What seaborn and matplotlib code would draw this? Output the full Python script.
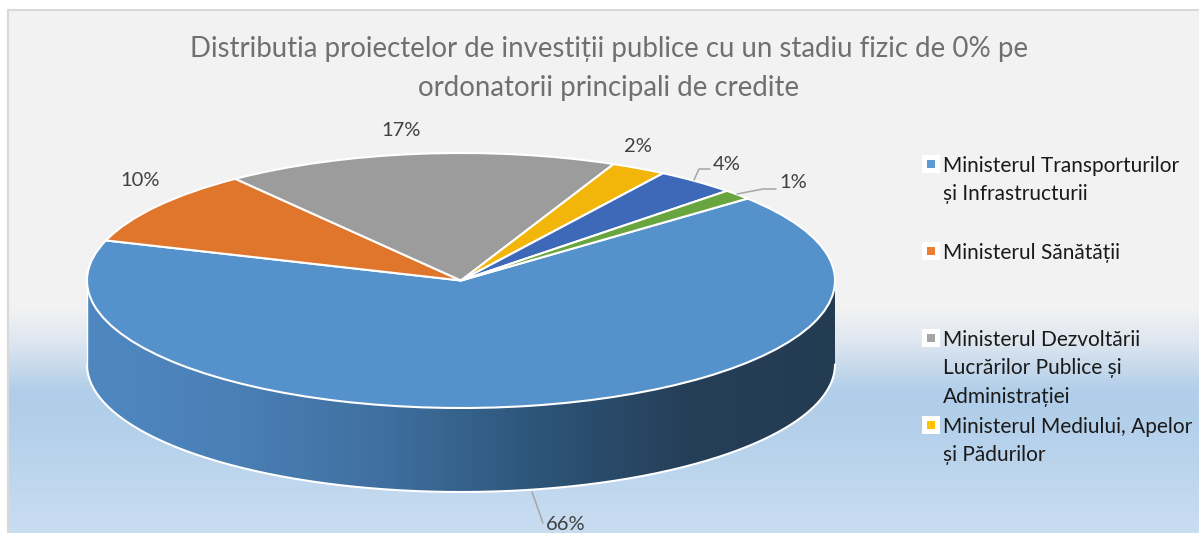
import matplotlib
matplotlib.use("Agg")
import matplotlib.pyplot as plt
import numpy as np
import seaborn as sns
from matplotlib.patches import PathPatch
from matplotlib.path import Path

MINISTRIES = [
    "Ministerul Transporturilor\nși Infrastructurii",
    "Ministerul Sănătății",
    "Ministerul Dezvoltării\nLucrărilor Publice și\nAdministrației",
    "Ministerul Mediului, Apelor\nși Pădurilor",
    "Ministerul Energiei",
    "Alte ministere",
]
SHARES = [66.2, 9.6, 17.0, 2.4, 3.5, 1.3]
SLICE_COLORS = ["#5592CB", "#E0752C", "#9C9C9C", "#F2B50A", "#3E69B9", "#69A53F"]
LEGEND_COLORS = ["#5B9BD5", "#ED7D31", "#A5A5A5", "#FFC000"]
LEGEND_SHOWN = 4
TITLE = ("Distributia proiectelor de investiții publice cu un stadiu fizic de 0% pe\n"
         "ordonatorii principali de credite")

# pixel geometry of the picture
W, H = 1199, 533
CX, CY, RX, RY = 461.0, 280.5, 374.0, 127.5
DEPTH = 84.0
LABEL_PX = [(566, 524), (140, 180), (401, 130), (638, 146), (727, 165), (793, 183)]
LEADERS_PX = {
    0: [(532, 492), (543, 523)],
    4: [(694, 180), (699, 169), (710, 169)],
    5: [(737, 194), (763, 189), (776, 189)],
}


def ux(x):
    return (x - CX) / RX


def uy(y):
    return (CY - y) / RY


sns.set_theme(style="white")
plt.rcParams["font.family"] = ["Lato", "DejaVu Sans"]

fig = plt.figure(figsize=(W / 100, H / 100), dpi=100, facecolor="white")

# panel background with the grey to blue fade
bg = fig.add_axes([8 / W, 0, 1 - 8 / W, 1 - 10 / H], zorder=0)
bg_cmap = sns.blend_palette(["#F2F2F2", "#F2F2F2", "#DFE7F0", "#B0CDE9", "#B4D0EB", "#C9DDF1"],
                            n_colors=256, as_cmap=True)
# stops are evenly spaced in the palette, so bend the ramp to put the fade at the right height
ramp = np.interp(np.arange(10, 533), [10, 308, 340, 392, 430, 533], [0, 0.2, 0.4, 0.6, 0.8, 1.0]).reshape(-1, 1)
bg.imshow(ramp, cmap=bg_cmap, vmin=0, vmax=1, aspect="auto")
bg.set_xticks([])
bg.set_yticks([])
for side in ["right", "bottom"]:
    bg.spines[side].set_visible(False)
for side in ["left", "top"]:
    bg.spines[side].set_color("#D9D9D9")
    bg.spines[side].set_linewidth(1.5)

ax = fig.add_axes([0, 0, 1, 1], zorder=1)
ax.patch.set_alpha(0)

wedges, _ = ax.pie(
    SHARES,
    colors=sns.color_palette(SLICE_COLORS),
    startangle=40,
    counterclock=False,
    radius=1,
    wedgeprops={"edgecolor": "white", "linewidth": 1.5, "zorder": 3},
)

# side wall of the disc, only the front half shows
depth = DEPTH / RY
t = np.linspace(np.pi, 2 * np.pi, 300)
xs, ys = np.cos(t), np.sin(t)
wall_xy = np.vstack([np.column_stack([xs, ys]), np.column_stack([xs[::-1], ys[::-1] - depth])])
wall_path = Path(np.vstack([wall_xy, wall_xy[0]]), closed=True)
wall_cmap = sns.blend_palette(["#4F88C1", "#4A7FB5", "#3F6F9F", "#2D5579", "#253F58", "#243C52"],
                              n_colors=256, as_cmap=True)
wall = ax.imshow(np.linspace(0, 1, 400).reshape(1, -1), cmap=wall_cmap, aspect="auto",
                 extent=(-1, 1, -1 - depth, 0), zorder=2)
wall.set_clip_path(PathPatch(wall_path, transform=ax.transData))
ax.plot(xs, ys - depth, color="white", lw=1.5, zorder=2.5)
ax.plot([-1, -1], [0, -depth], color="white", lw=1.0, zorder=2.5)

ax.set_aspect("auto")
ax.set_xlim(ux(0), ux(W))
ax.set_ylim(uy(H), uy(0))
ax.set_axis_off()

for i, share in enumerate(SHARES):
    lx, ly = LABEL_PX[i]
    ax.text(ux(lx), uy(ly), f"{share:.0f}%", ha="center", va="center",
            fontsize=14.5, color="#404040", zorder=5)
for pts in LEADERS_PX.values():
    ax.plot([ux(p[0]) for p in pts], [uy(p[1]) for p in pts], color="#A6A6A6", lw=1.1, zorder=4)

# legend is spaced on a fixed step in the original, so it is placed by hand
for i in range(LEGEND_SHOWN):
    y = 164 + 87 * i
    ax.scatter(ux(931), uy(y), marker="s", s=150, color="white", linewidths=0, zorder=4)
    ax.scatter(ux(931), uy(y), marker="s", s=32, color=LEGEND_COLORS[i], linewidths=0, zorder=5)
    ax.text(ux(943), uy(y - 8), MINISTRIES[i], ha="left", va="top", fontsize=15,
            color="#1A1A1A", linespacing=1.52, zorder=5)

fig.text(609 / W, 1 - 68.5 / H, TITLE, ha="center", va="center", fontsize=19.9,
         color="#707070", linespacing=1.6, zorder=6)

fig.savefig("out.png", dpi=100)
plt.close(fig)
